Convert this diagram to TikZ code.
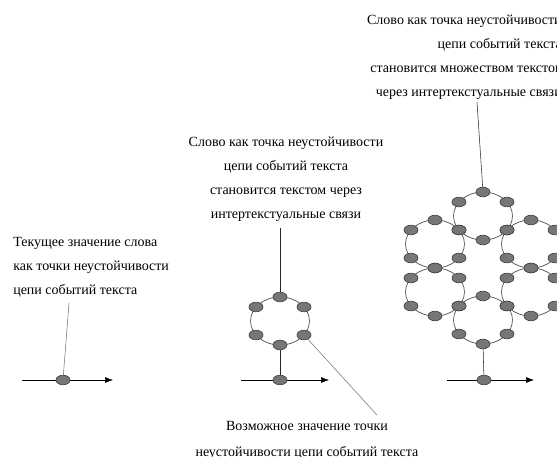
\documentclass[tikz,border=0pt]{standalone}
\usepackage{fontspec}
\setmainfont{Liberation Serif}
\usetikzlibrary{shapes.geometric, arrows.meta, positioning}
\definecolor{ptFill}{RGB}{118,118,118}
\definecolor{ptLine}{RGB}{70,70,70}
\tikzstyle{pNode} = [ellipse, minimum width=10.5pt, minimum height=7.2pt, inner sep=0pt, fill=ptFill, draw=ptLine, line width=0.5pt]
\tikzstyle{txtNode} = [inner sep=0pt, font=\fontsize{10.5}{18}\selectfont]
\tikzstyle{ring} = [draw=ptLine, line width=0.5pt]
\tikzstyle{arrow} = [thin,-{Latex[length=6pt,width=4.5pt]},draw=black]
\tikzstyle{stem} = [thin,draw=black!85]
\tikzstyle{pointer} = [thin,draw=gray!90!black]

\begin{document}
\begin{tikzpicture}[x=0.75pt, y=-0.75pt]
        \useasboundingbox (0,0) rectangle (557,457);
        \clip (0,0) rectangle (557,457);

        % time axes
        \coordinate (a0s) at (22,380);  \coordinate (a0e) at (113,380);
        \coordinate (a1s) at (241,380); \coordinate (a1e) at (329,380);
        \coordinate (a2s) at (447,380); \coordinate (a2e) at (534,380);
        \draw [arrow] (a0s) -- (a0e);
        \draw [arrow] (a1s) -- (a1e);
        \draw [arrow] (a2s) -- (a2e);

        % rings
        \foreach \n/\cx/\cy in {m/280/321, ct/483/216, cl/435/244, cll/435/292, cb/483/320, cr/531/244, crr/531/292}
            \draw [ring] (\cx,\cy) ellipse [x radius=22.1pt, y radius=18pt];
        \foreach \n/\cx/\cy in {m/280/321, ct/483/216, cl/435/244, cll/435/292, cb/483/320, cr/531/244, crr/531/292} {
            \begin{scope}[shift={(\cx,\cy)}]
                \node (\n-1) [pNode] at (0,-24) {};
                \node (\n-2) [pNode] at (24,-14) {};
                \node (\n-3) [pNode] at (24,14) {};
                \node (\n-4) [pNode] at (0,24) {};
                \node (\n-5) [pNode] at (-24,14) {};
                \node (\n-6) [pNode] at (-24,-14) {};
            \end{scope}
        }

        % points on the axes
        \node (p0) [pNode] at (63,380) {};
        \node (p1) [pNode] at (280,380) {};
        \node (p2) [pNode] at (484,380) {};
        \draw [stem] (m-4) -- (p1);
        \draw [stem] (cb-4) -- (p2);

        % labels
        \node (t0) [txtNode, anchor=north west, align=left] at (13,237) {Текущее значение слова\\как точки неустойчивости\\цепи событий текста};
        \node (t1) [txtNode, anchor=north, align=center] at (286,137) {Слово как точка неустойчивости\\цепи событий текста\\становится текстом через\\интертекстуальные связи};
        \node (t2) [txtNode, anchor=north east, align=right] at (562,15) {Слово как точка неустойчивости\\цепи событий текста\\становится множеством текстов\\через интертекстуальные связи};
        \node (t3) [txtNode, anchor=north, align=center, font=\fontsize{10.5}{19.5}\selectfont] at (307,421) {Возможное значение точки\\неустойчивости цепи событий текста};

        \coordinate (t0p) at (69,303);
        \coordinate (t1p) at (280,228);
        \coordinate (t2p) at (477,102);
        \coordinate (t3p) at (377,415);
        \draw [pointer] (t0p) -- (p0);
        \draw [stem] (t1p) -- (m-1);
        \draw [stem] (t2p) -- (ct-1);
        \draw [pointer] (m-3) -- (t3p);
\end{tikzpicture}
\end{document}
